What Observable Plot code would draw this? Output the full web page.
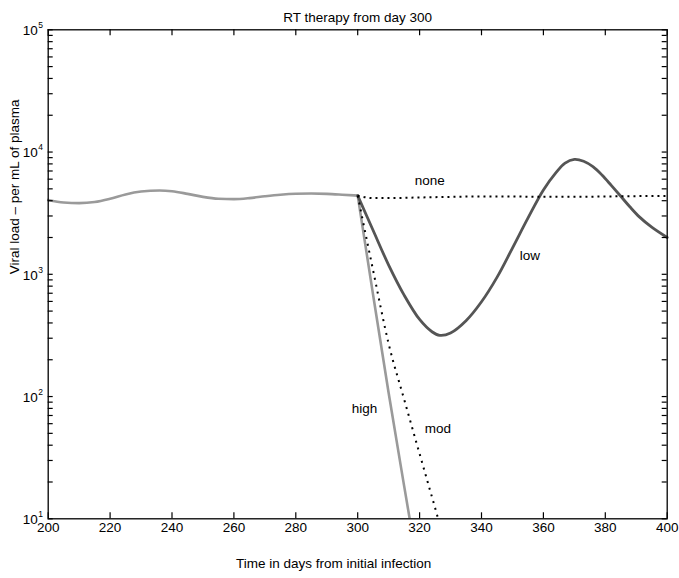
<!DOCTYPE html>
<html>
<head>
<meta charset="utf-8">
<script src="https://cdn.jsdelivr.net/npm/d3@7"></script>
<script src="https://cdn.jsdelivr.net/npm/@observablehq/plot@0.6"></script>
<style>
  html, body { margin: 0; padding: 0; background: #fff; }
  svg { display: block; }
</style>
</head>
<body>
<div id="chart"></div>
<script>
// ---- data ----
const preT  = [200, 205, 210, 215, 220, 225, 230, 236, 240, 245, 250, 255, 260, 265, 270, 275, 280, 285, 290, 295, 300];
const preV  = [4060, 3870, 3820, 3900, 4150, 4500, 4750, 4850, 4780, 4550, 4300, 4150, 4120, 4200, 4350, 4480, 4560, 4580, 4550, 4480, 4400];

const noneT = [300, 305, 310, 320, 330, 340, 350, 360, 370, 380, 390, 400];
const noneV = [4400, 4200, 4200, 4250, 4300, 4330, 4330, 4300, 4300, 4330, 4360, 4380];

const lowT  = [300, 305, 310, 315, 320, 324, 326.5, 330, 335, 340, 345, 350, 355, 360, 364, 367, 370, 373, 376, 379, 382, 385, 388, 391, 395, 400];
const lowV  = [4400, 2280, 1190, 676, 427, 339, 317, 331, 417, 596, 944, 1640, 2880, 4900, 6760, 8130, 8710, 8410, 7590, 6460, 5310, 4350, 3550, 2950, 2430, 2000];

const highT = [300, 305, 310, 315, 318];
const highV = [4400, 673, 107, 18.6, 6.6];

const modT  = [300, 305, 310, 315, 320, 326, 328];
const modV  = [4400, 1070, 270, 95, 34, 10, 6.6];

const xTicks = [200, 220, 240, 260, 280, 300, 320, 340, 360, 380, 400];
const yMajor = [10, 100, 1000, 10000, 100000];
const yMinor = [2, 3, 4, 5, 6, 7, 8, 9].flatMap(m => [10, 100, 1000, 10000].map(p => m * p));

const labelNames = ["none", "low", "high", "mod"];
const labelT = [323.3, 355.6, 302.2, 325.9];
const labelV = [5850, 1426, 80, 55];

const titleText = "RT therapy from day 300";
const xLabel = "Time in days from initial infection";
const yLabel = "Viral load \u2013 per mL of plasma";

// ---- build ----
const rows = (T, V) => T.map((t, i) => ({t, v: V[i]}));
const W = 679, H = 578;
const mL = 47.7, mR = 12.3, mT = 29.3, mB = 59.7;
const fw = W - mL - mR, fh = H - mT - mB;
const font = "'Liberation Sans', Arial, Helvetica, sans-serif";
const fs = 13.5;
const txt = {fill: "#000", fontSize: fs, fontFamily: font};

const chart = Plot.plot({
  width: W,
  height: H,
  marginLeft: mL, marginRight: mR, marginTop: mT, marginBottom: mB,
  style: {fontFamily: font, fontSize: fs + "px", background: "#fff", color: "#000"},
  x: {domain: [200, 400], axis: null},
  y: {type: "log", domain: [10, 100000], axis: null},
  marks: [
    // series
    Plot.line(rows(preT, preV), {x: "t", y: "v", stroke: "#9a9a9a", strokeWidth: 2.6, curve: "monotone-x"}),
    Plot.line(rows(highT, highV), {x: "t", y: "v", stroke: "#9a9a9a", strokeWidth: 2.6, curve: "monotone-x", clip: true}),
    Plot.line(rows(lowT, lowV), {x: "t", y: "v", stroke: "#555555", strokeWidth: 2.8, curve: "catmull-rom"}),
    Plot.line(rows(noneT, noneV), {x: "t", y: "v", stroke: "#000", strokeWidth: 2, strokeDasharray: "2,4", strokeLinecap: "butt", curve: "monotone-x"}),
    Plot.line(rows(modT, modV), {x: "t", y: "v", stroke: "#000", strokeWidth: 2, strokeDasharray: "2,5", strokeLinecap: "butt", curve: "monotone-x", clip: true}),
    // frame and inner ticks
    Plot.frame({stroke: "#000", strokeWidth: 1.3}),
    Plot.tickX(xTicks, {x: d => d, insetTop: fh - 6, stroke: "#000", strokeWidth: 1.2}),
    Plot.tickX(xTicks, {x: d => d, insetBottom: fh - 6, stroke: "#000", strokeWidth: 1.2}),
    Plot.tickY(yMajor.concat(yMinor), {y: d => d, insetRight: fw - 5, stroke: "#000", strokeWidth: 1.2}),
    Plot.tickY(yMajor.concat(yMinor), {y: d => d, insetLeft: fw - 5, stroke: "#000", strokeWidth: 1.2}),
    // tick labels
    Plot.text(xTicks, {x: d => d, frameAnchor: "bottom", dy: 13.5, text: d => String(d), ...txt}),
    Plot.text(yMajor, {y: d => d, frameAnchor: "left", dx: -10.5, dy: 1, textAnchor: "end", text: () => "10", ...txt}),
    Plot.text(yMajor, {y: d => d, frameAnchor: "left", dx: -10, dy: -4.5, textAnchor: "start", text: d => String(Math.round(Math.log10(d))), ...txt, fontSize: 8.5}),
    // series labels
    Plot.text(labelNames, {x: (d, i) => labelT[i], y: (d, i) => labelV[i], text: d => d, ...txt}),
    // title and axis labels
    Plot.text([titleText], {frameAnchor: "top", dy: -17, text: d => d, ...txt}),
    Plot.text([xLabel], {frameAnchor: "bottom", dx: -24, dy: 49, text: d => d, ...txt}),
    Plot.text([yLabel], {frameAnchor: "left", dx: -33.5, rotate: -90, text: d => d, ...txt})
  ]
});
document.getElementById("chart").appendChild(chart);
</script>
</body>
</html>
